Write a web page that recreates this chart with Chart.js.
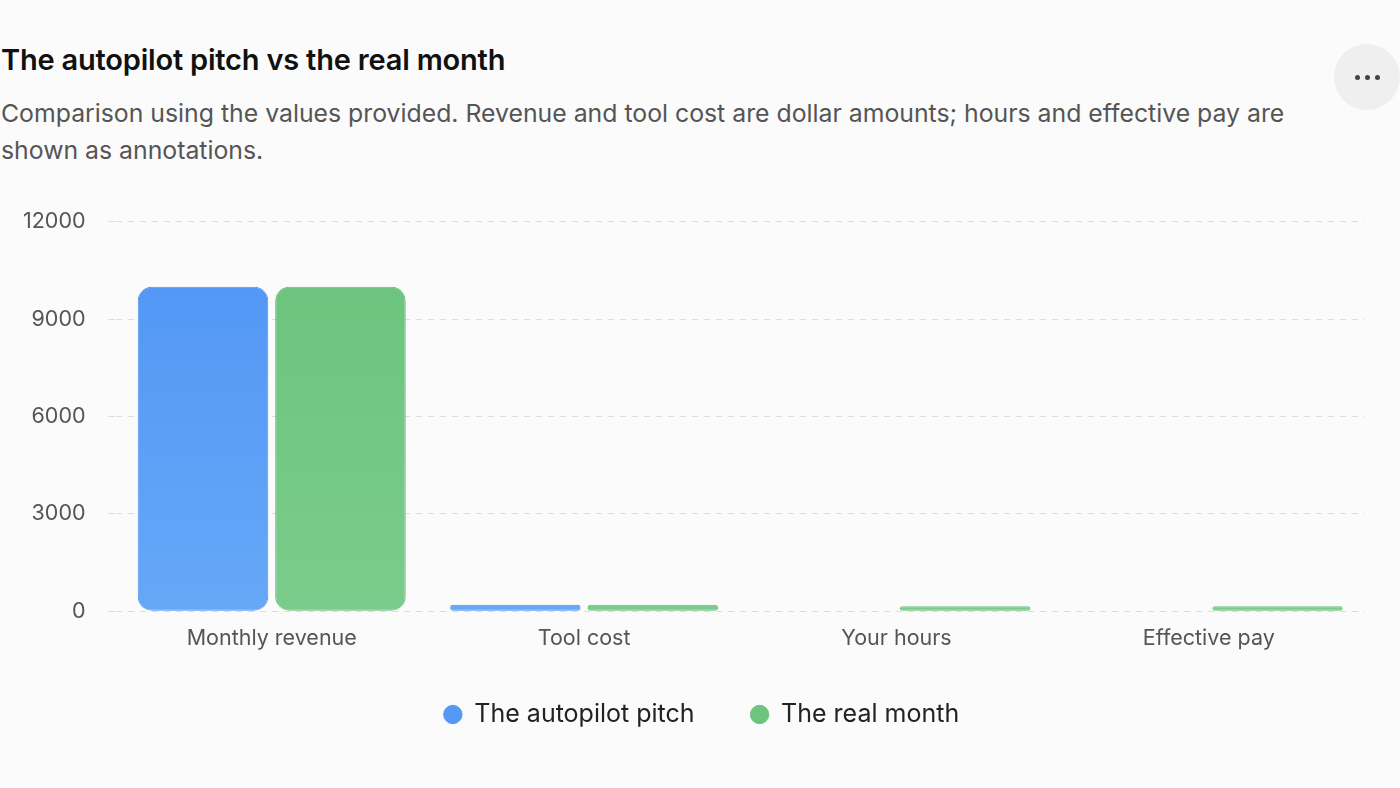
<!DOCTYPE html>
<html><head><meta charset="utf-8">
<script src="https://cdn.jsdelivr.net/npm/chart.js@4.4.1/dist/chart.umd.min.js"></script>
<style>
html,body{margin:0;padding:0;background:#fbfbfb;width:1400px;height:788px;overflow:hidden;font-family:"Inter","Noto Sans",sans-serif;}
#title{position:absolute;left:1px;top:42px;font-size:29px;font-weight:600;color:#111;letter-spacing:-0.2px;line-height:36px;}
#sub{position:absolute;left:1px;top:95px;width:1310px;font-size:24.8px;line-height:36.5px;color:#555;}
#menu{position:absolute;left:1334px;top:44px;width:66px;height:66px;border-radius:50%;background:#efefef;display:flex;align-items:center;justify-content:center;gap:5px;}
#menu span{display:block;width:5px;height:5px;border-radius:50%;background:#444;}
#wrap{position:absolute;left:0;top:186px;width:1400px;height:562px;}
</style></head>
<body>
<div id="title">The autopilot pitch vs the real month</div>
<div id="sub">Comparison using the values provided. Revenue and tool cost are dollar amounts; hours and effective pay are shown as annotations.</div>
<div id="menu"><span></span><span></span><span></span></div>
<div id="wrap"><canvas id="c"></canvas></div>
<script>
const categories = ["Monthly revenue", "Tool cost", "Your hours", "Effective pay"];
const pitchValues = [10000, 200, 0, 0];
const realValues = [10000, 200, 150, 150];
const seriesNames = ["The autopilot pitch", "The real month"];
const yTicks = [0, 3000, 6000, 9000, 12000];
const solidColors = ['#5399f5', '#6cc47e'];

const legendShift = {
  id: 'legendShift',
  afterLayout(chart) {
    const l = chart.legend;
    if (!l) return;
    l.left += 19; l.right += 19;
    l.top -= 11; l.bottom -= 11;
  }
};

function grad(top, bottom, solid) {
  return (ctx) => {
    const ca = ctx.chart.chartArea;
    if (!ca || ctx.type !== 'data') return solid;
    const g = ctx.chart.ctx.createLinearGradient(0, ca.top, 0, ca.bottom);
    g.addColorStop(0, top); g.addColorStop(1, bottom);
    return g;
  };
}

new Chart(document.getElementById('c'), {
  type: 'bar',
  data: {
    labels: categories,
    datasets: [
      {label: seriesNames[0], data: pitchValues, backgroundColor: grad('#4f95f5', '#66a7f7', solidColors[0]), borderColor: '#4a92f2', borderWidth: 1, borderRadius: 14, borderSkipped: false},
      {label: seriesNames[1], data: realValues, backgroundColor: grad('#69c37b', '#7bcc8c', solidColors[1]), borderColor: '#62bf74', borderWidth: 1, borderRadius: 14, borderSkipped: false}
    ]
  },
  plugins: [legendShift],
  options: {
    responsive: true, maintainAspectRatio: false, animation: false,
    layout: {padding: {top: 0, right: 35, left: 0, bottom: 0}},
    datasets: {bar: {categoryPercentage: 0.88, barPercentage: 0.95}},
    plugins: {
      legend: {position: 'bottom', labels: {usePointStyle: true, pointStyle: 'circle', boxWidth: 18, boxHeight: 13, padding: 56, color: '#222', font: {size: 25, family: 'Inter'},
        generateLabels: (chart) => {
          const items = Chart.defaults.plugins.legend.labels.generateLabels(chart);
          items.forEach((it) => { it.fillStyle = solidColors[it.datasetIndex]; it.strokeStyle = solidColors[it.datasetIndex]; it.lineWidth = 1; });
          return items;
        }}},
      tooltip: {enabled: false}
    },
    scales: {
      x: {grid: {display: false}, border: {display: false}, ticks: {color: '#555', padding: 6, font: {size: 21.5, family: 'Inter'}}},
      y: {min: 0, max: 12000, afterBuildTicks: (ax) => { ax.ticks = yTicks.map(v => ({value: v})); },
          grid: {color: '#dddddd', drawTicks: true, tickLength: 7, tickBorderDash: [6,6]}, border: {display: false, dash: [6,6]},
          ticks: {color: '#555', padding: 23, font: {size: 21.5, family: 'Inter'}, callback: (v) => String(v)}}
    }
  }
});
</script>
</body></html>
